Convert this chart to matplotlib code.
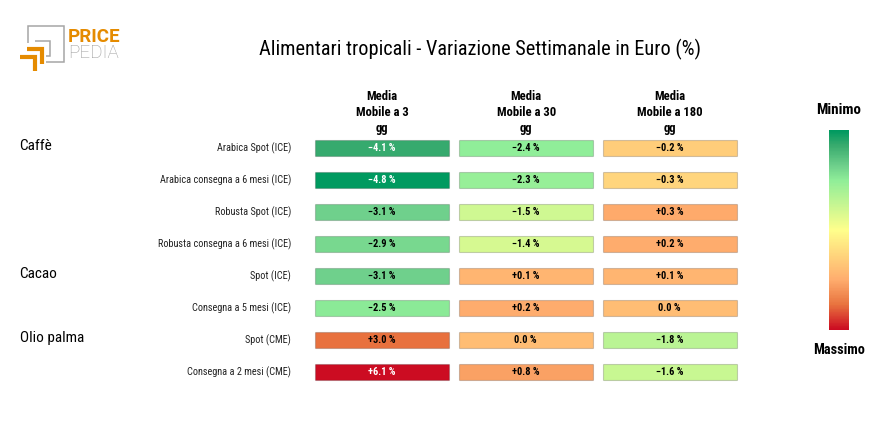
import numpy as np
import matplotlib
matplotlib.use("Agg")
import matplotlib.pyplot as plt
from matplotlib.colors import LinearSegmentedColormap
from matplotlib import font_manager

# condensed font if there is one
names = {f.name for f in font_manager.fontManager.ttflist}
narrow = "Roboto Condensed" if "Roboto Condensed" in names else "Liberation Sans Narrow" if "Liberation Sans Narrow" in names else "Roboto"
plt.rcParams["font.family"] = [narrow, "DejaVu Sans"]

title = "Alimentari tropicali - Variazione Settimanale in Euro (%)"
columns = ["Media\nMobile a 3\ngg", "Media\nMobile a 30\ngg", "Media\nMobile a 180\ngg"]
rows = [
    "Arabica Spot (ICE)",
    "Arabica consegna a 6 mesi (ICE)",
    "Robusta Spot (ICE)",
    "Robusta consegna a 6 mesi (ICE)",
    "Spot (ICE)",
    "Consegna a 5 mesi (ICE)",
    "Spot (CME)",
    "Consegna a 2 mesi (CME)",
]
groups = ["Caffè", "", "", "", "Cacao", "", "Olio palma", ""]
ma3 = [-4.1, -4.8, -3.1, -2.9, -3.1, -2.5, 3.0, 6.1]
ma30 = [-2.4, -2.3, -1.5, -1.4, 0.1, 0.2, 0.0, 0.8]
ma180 = [-0.2, -0.3, 0.3, 0.2, 0.1, 0.0, -1.8, -1.6]

# colour scale
scale_vals = [-4.8, -4.1, -3.1, -2.4, -0.8, 0.2, 3.0, 6.1]
scale_pos = [0, 0.073, 0.177, 0.25, 0.5, 0.75, 0.875, 1]
scale_cols = ["#009A60", "#38AB6E", "#6FD08C", "#90EE99", "#FFFF8C", "#FFAD6E", "#E9743F", "#CC0C22"]
cmap = LinearSegmentedColormap.from_list("pp", list(zip(scale_pos, scale_cols)))


def fmt(v):
    if v == 0:
        return "0.0 %"
    return f"{'+' if v > 0 else '−'}{abs(v):.1f} %"


W, H = 880, 430
fig = plt.figure(figsize=(W / 100, H / 100), dpi=100, facecolor="white")

# page axes in pixels, for the texts and the logo
page = fig.add_axes([0, 0, 1, 1])
page.set_xlim(0, W)
page.set_ylim(H, 0)
page.axis("off")

page.text(480, 49, title, ha="center", va="center", fontsize=14.6, color="black")

# logo
for xs, ys in [([28, 28, 64, 64, 46], [43, 26, 26, 62, 62]), ([35, 50, 50, 46], [41, 41, 56, 56])]:
    page.plot(xs, ys, color="#a6a6a6", lw=1.1, solid_capstyle="butt", solid_joinstyle="miter")
for xs, ys in [([27, 42, 42], [49, 49, 64]), ([20, 35, 35], [57, 57, 71])]:
    page.plot(xs, ys, color="#E58B00", lw=3.0, solid_capstyle="butt", solid_joinstyle="miter")
page.text(68, 36.5, "PRICE", ha="left", va="center", fontsize=13.5, fontweight="bold", color="#E58B00", family="Roboto")
page.text(68, 53.5, "PEDIA", ha="left", va="center", fontsize=13.5, fontweight="light", color="#999999", family="Roboto")

# heat table
ax = fig.add_axes([310.5 / W, 1 - 388 / H, 432 / W, 256 / H])
ax.set_xlim(0, 3)
ax.set_ylim(8, 0)
ax.axis("off")
y = np.arange(len(rows)) + 0.5
for c, vals in enumerate([ma3, ma30, ma180]):
    colors = cmap(np.interp(vals, scale_vals, scale_pos))
    ax.barh(y, [0.93] * len(rows), left=c + 0.03, height=0.51, color=colors,
            edgecolor=(0, 0, 0, 0.18), linewidth=0.8)
    for yy, v in zip(y, vals):
        ax.text(c + 0.495, yy + 0.015, fmt(v), ha="center", va="center", fontsize=7.5, fontweight="bold",
                color="white" if v <= -4 or v >= 5 else "black")
    page.text(382.3 + 144 * c, 112.5, columns[c], ha="center", va="center", fontsize=9.1,
              fontweight="bold", linespacing=1.26)

for r, g, yy in zip(rows, groups, y):
    py = 132 + yy * 32
    page.text(291, py + 0.5, r, ha="right", va="center", fontsize=7.35, color="#222222")
    if g:
        page.text(19.5, py - 2, g, ha="left", va="center", fontsize=11, color="black")

# legend bar
bar = fig.add_axes([829 / W, 1 - 330 / H, 20 / W, 200 / H])
bar.imshow(np.linspace(0, 1, 200)[:, None], cmap=cmap, aspect="auto")
bar.axis("off")
page.text(839, 110.5, "Minimo", ha="center", va="center", fontsize=10.8, fontweight="bold")
page.text(839, 350.5, "Massimo", ha="center", va="center", fontsize=10.3, fontweight="bold")

fig.savefig("out.png", dpi=100)
